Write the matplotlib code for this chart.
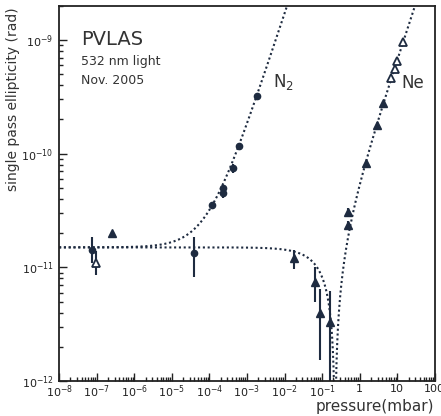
import matplotlib
matplotlib.use("Agg")
import matplotlib.pyplot as plt
import numpy as np
from matplotlib.ticker import LogLocator, NullFormatter, FuncFormatter

# N2 measurements (filled circles)
n2_p = [7.6e-8, 3.8e-5, 1.19e-4, 2.27e-4, 2.3e-4, 4.2e-4, 6.3e-4, 1.82e-3]
n2_psi = [1.43e-11, 1.35e-11, 3.56e-11, 4.99e-11, 4.5e-11, 7.5e-11, 1.18e-10, 3.24e-10]
n2_lo = [1.1e-11, 8.2e-12, 3.4e-11, 4.5e-11, 4.1e-11, 6.8e-11, 1.12e-10, 3.1e-10]
n2_hi = [1.85e-11, 1.86e-11, 3.7e-11, 5.3e-11, 4.9e-11, 8.1e-11, 1.24e-10, 3.4e-10]

# Ne measurements (filled triangles)
ne_p = [2.6e-7, 1.83e-2, 6.5e-2, 9.0e-2, 0.166, 0.48, 0.50, 1.48, 2.9, 4.09]
ne_psi = [2.0e-11, 1.2e-11, 7.5e-12, 3.95e-12, 3.3e-12, 3.1e-11, 2.37e-11, 8.3e-11, 1.8e-10, 2.8e-10]
ne_lo = [1.9e-11, 9.6e-12, 5.0e-12, 1.53e-12, 5e-13, 2.9e-11, 2.2e-11, 8.0e-11, 1.75e-10, 2.7e-10]
ne_hi = [2.1e-11, 1.43e-11, 1.0e-11, 6.4e-12, 6.2e-12, 3.3e-11, 2.55e-11, 8.6e-11, 1.85e-10, 2.9e-10]

# Ne measurements (open triangles)
neo_p = [9.8e-8, 6.97, 8.5, 10.0, 13.9]
neo_psi = [1.10e-11, 4.65e-10, 5.57e-10, 6.6e-10, 9.57e-10]
neo_lo = [8.6e-12, 4.55e-10, 5.45e-10, 6.45e-10, 9.4e-10]
neo_hi = [1.38e-11, 4.75e-10, 5.7e-10, 6.75e-10, 9.75e-10]

# fit parameters: background + linear gas term (N2 positive, Ne negative)
psi0 = 1.5e-11
k_n2 = 1.7e-7
k_ne = 6.8e-11

col = '#1e2b40'
tcol = '#333333'

fig = plt.figure(figsize=(4.41, 4.16), dpi=100)
ax = fig.add_axes([0.134, 0.084, 0.852, 0.902])
ax.set_xscale('log')
ax.set_yscale('log')

p = np.logspace(-8, 2, 6000)
p0 = psi0 / k_ne
p = np.sort(np.concatenate([p, p0 * (1 + np.linspace(-0.05, 0.05, 801))]))
ax.plot(p, psi0 + k_n2 * p, ls=(0, (1, 1.3)), lw=1.5, color=col)
ax.plot(p, np.abs(psi0 - k_ne * p), ls=(0, (1, 1.3)), lw=1.5, color=col)

def errs(v, lo, hi):
    v = np.array(v); return [v - np.array(lo), np.array(hi) - v]

ax.errorbar(n2_p, n2_psi, yerr=errs(n2_psi, n2_lo, n2_hi), fmt='o', ms=4.5,
            color=col, ecolor=col, elinewidth=1.5, capsize=0)
ax.errorbar(ne_p, ne_psi, yerr=errs(ne_psi, ne_lo, ne_hi), fmt='^', ms=6,
            color=col, ecolor=col, elinewidth=1.5, capsize=0)
ax.errorbar(neo_p, neo_psi, yerr=errs(neo_psi, neo_lo, neo_hi), fmt='^', ms=5.5,
            mfc='white', mec=col, mew=1.3, color=col, ecolor=col,
            elinewidth=1.5, capsize=0)

ax.set_xlim(1e-8, 1e2)
ax.set_ylim(1e-12, 2e-9)

def declabel(v, pos):
    e = int(round(np.log10(v)))
    if e >= 0:
        return str(10 ** e)
    return '$10^{%d}$' % e

ax.xaxis.set_major_locator(LogLocator(base=10, numticks=20))
ax.xaxis.set_major_formatter(FuncFormatter(declabel))
ax.xaxis.set_minor_locator(LogLocator(base=10, subs=np.arange(2, 10), numticks=20))
ax.xaxis.set_minor_formatter(NullFormatter())
ax.yaxis.set_major_locator(LogLocator(base=10, numticks=20))
ax.yaxis.set_major_formatter(FuncFormatter(declabel))
ax.yaxis.set_minor_locator(LogLocator(base=10, subs=np.arange(2, 10), numticks=20))
ax.yaxis.set_minor_formatter(NullFormatter())
ax.tick_params(which='both', direction='in', top=False, right=False,
               labelsize=8, colors='#222222', width=1)
ax.tick_params(which='major', length=6)
ax.tick_params(which='minor', length=3)
ax.tick_params(axis='x', which='major', pad=2)
ax.tick_params(axis='y', which='major', pad=4)
for s in ax.spines.values():
    s.set_linewidth(1.3)
    s.set_color('#222222')

ax.set_ylabel('single pass ellipticity (rad)', fontsize=10, color=tcol)
ax.yaxis.set_label_coords(-0.104, 0.752)
fig.text(0.985, 0.024, 'pressure(mbar)', fontsize=11, color=tcol,
         ha='right', va='center')

ax.text(0.058, 0.911, 'PVLAS', transform=ax.transAxes, fontsize=14,
        va='center', color=tcol)
ax.text(0.058, 0.851, '532 nm light', transform=ax.transAxes, fontsize=9,
        va='center', color=tcol)
ax.text(0.058, 0.800, 'Nov. 2005', transform=ax.transAxes, fontsize=9,
        va='center', color=tcol)
ax.text(4.8e-3, 4.3e-10, 'N$_2$', fontsize=12, va='center', color=tcol)
ax.text(12.6, 4.2e-10, 'Ne', fontsize=12, va='center', color=tcol)

fig.savefig('out.png', dpi=100)
